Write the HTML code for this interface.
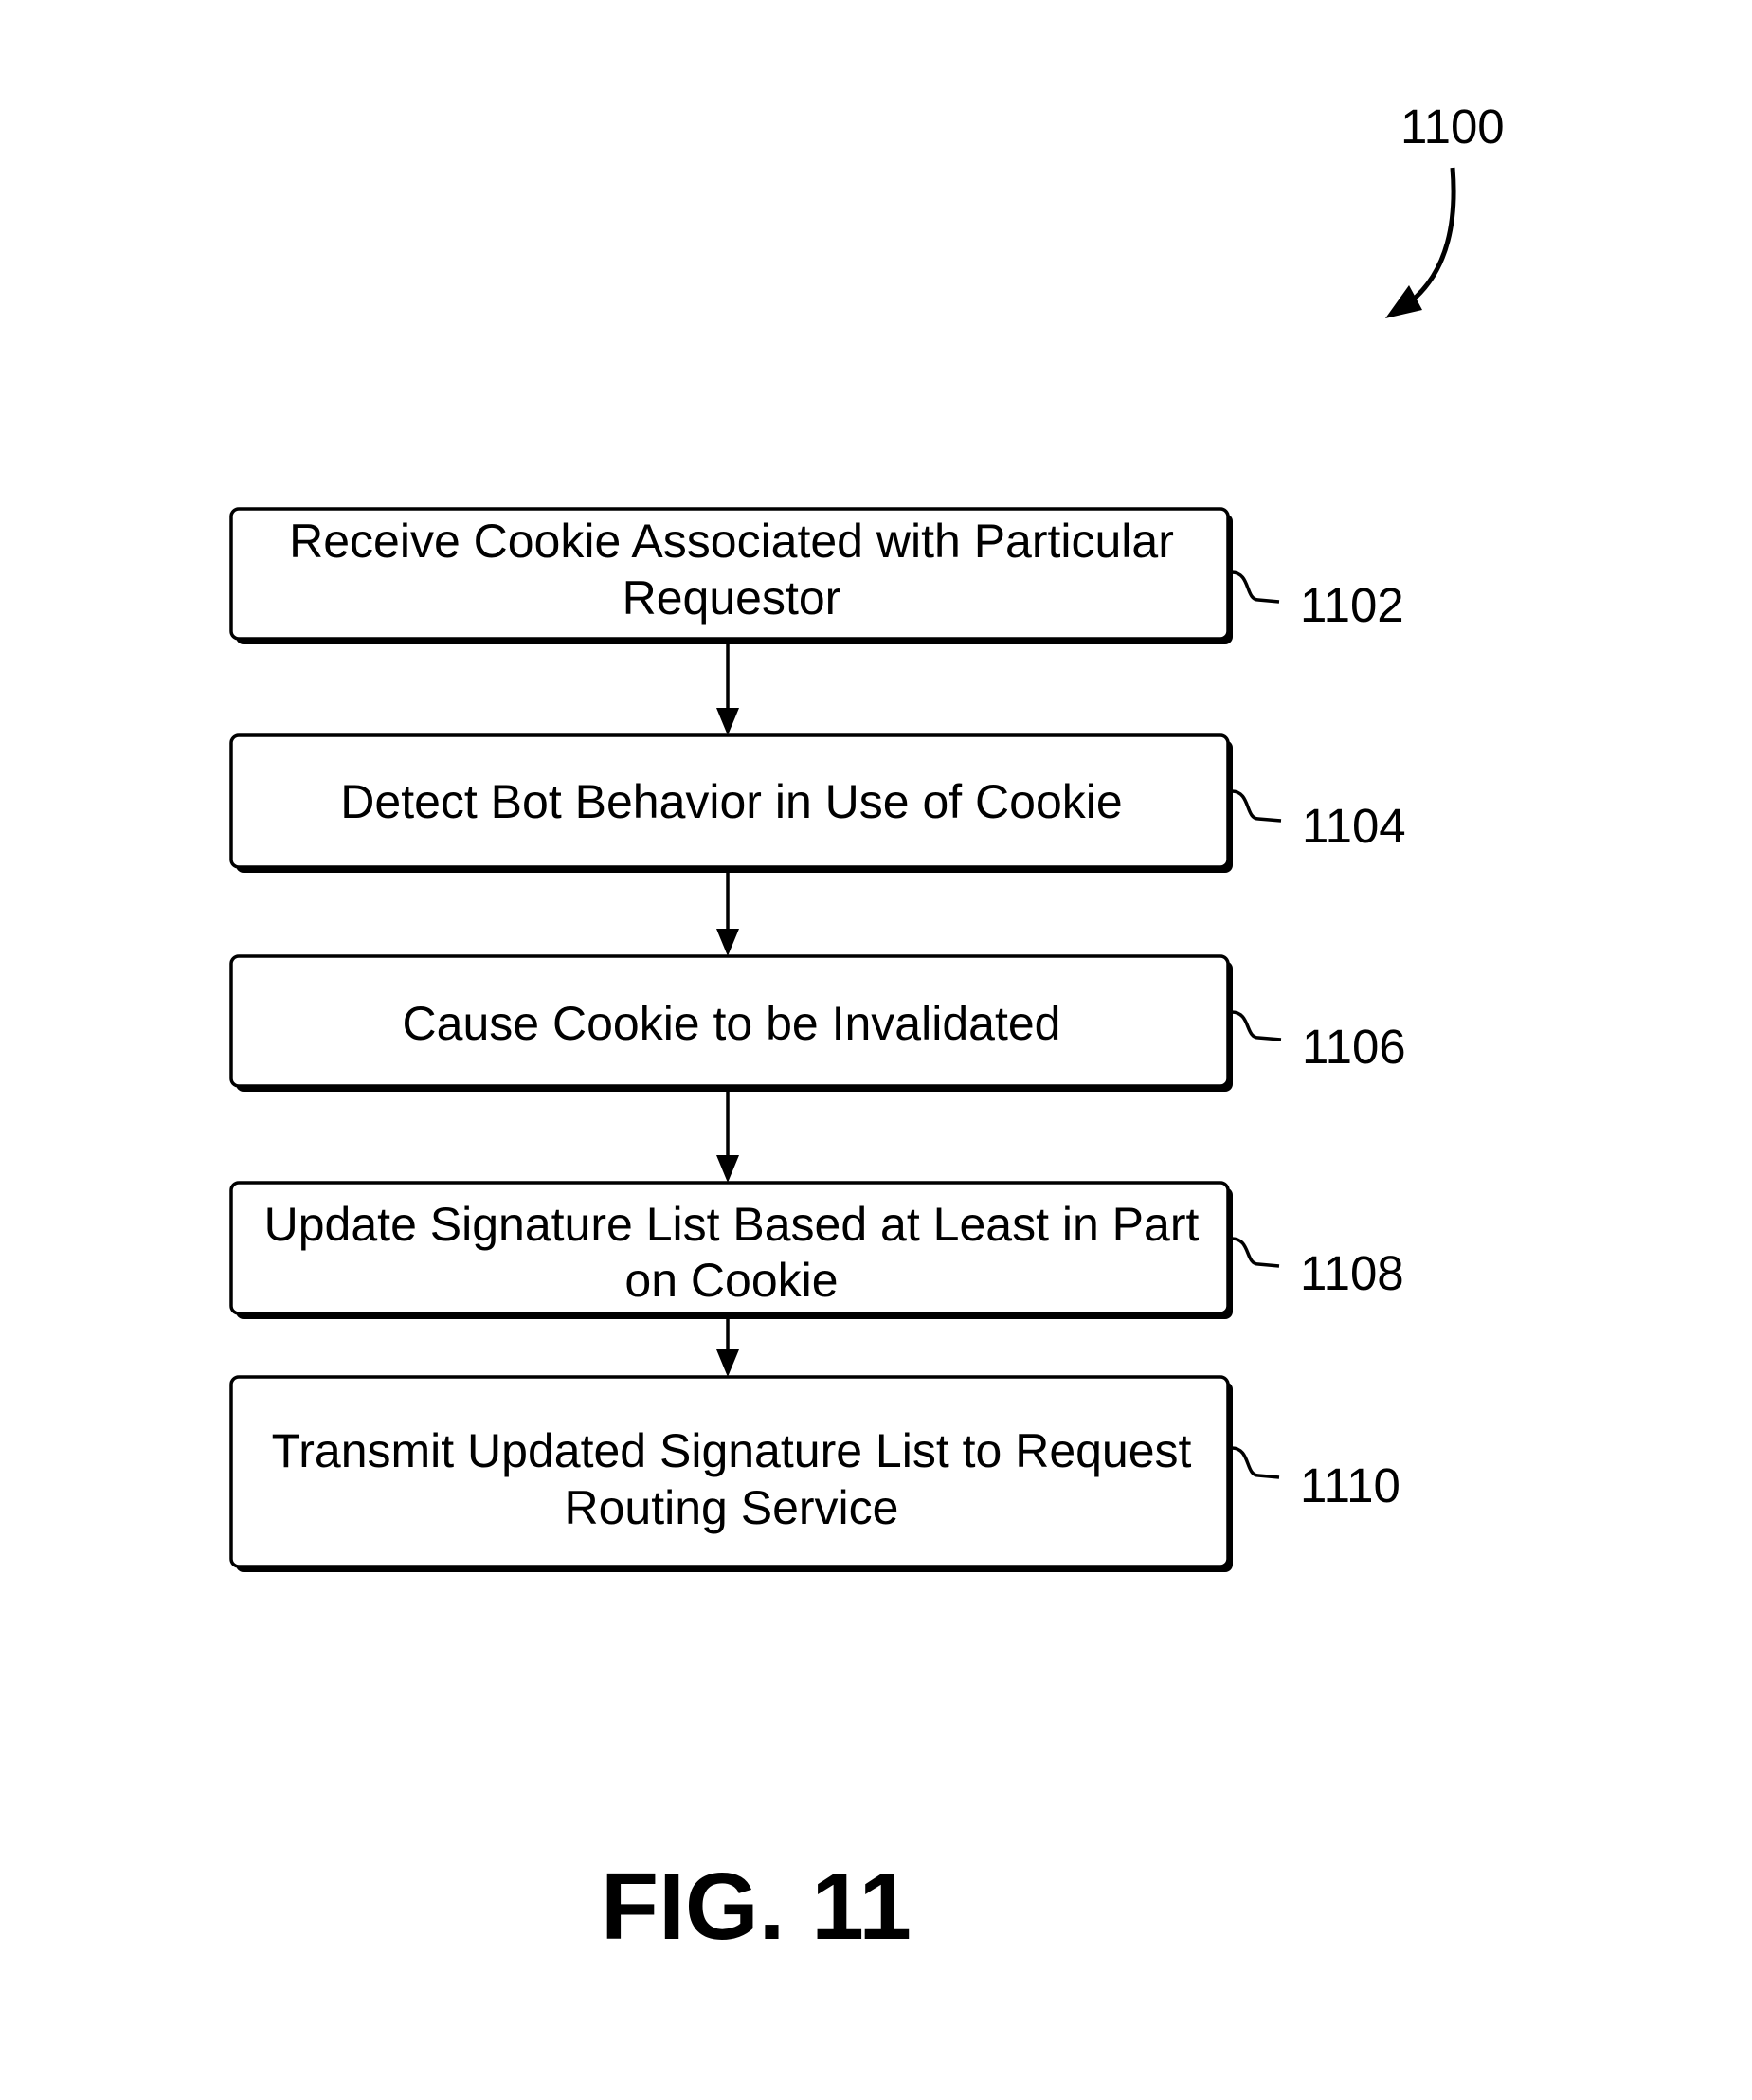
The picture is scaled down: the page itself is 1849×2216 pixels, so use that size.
<!DOCTYPE html>
<html><head><style>html,body{margin:0;padding:0;background:#fff}svg{display:block}</style></head>
<body>
<svg width="1849" height="2216" viewBox="0 0 1849 2216" xmlns="http://www.w3.org/2000/svg" font-family="Liberation Sans, Arial, sans-serif">
<g fill="#000">
<rect x="249" y="542" width="1052" height="138" rx="8"/>
<rect x="249" y="781" width="1052" height="140" rx="8"/>
<rect x="249" y="1014" width="1052" height="138" rx="8"/>
<rect x="249" y="1253" width="1052" height="139" rx="8"/>
<rect x="249" y="1458" width="1052" height="201" rx="8"/>
</g>
<g fill="#fff" stroke="#000" stroke-width="3.5">
<rect x="244" y="537" width="1052" height="137" rx="8"/>
<rect x="244" y="776" width="1052" height="139" rx="8"/>
<rect x="244" y="1009" width="1052" height="137" rx="8"/>
<rect x="244" y="1248" width="1052" height="138" rx="8"/>
<rect x="244" y="1453" width="1052" height="200" rx="8"/>
</g>
<g stroke="#000" stroke-width="3.5">
<line x1="768" y1="680" x2="768" y2="750"/>
<line x1="768" y1="921" x2="768" y2="983"/>
<line x1="768" y1="1152" x2="768" y2="1222"/>
<line x1="768" y1="1392" x2="768" y2="1428"/>
</g>
<g fill="#000">
<polygon points="756,747 780,747 768,776"/>
<polygon points="756,980 780,980 768,1009"/>
<polygon points="756,1219 780,1219 768,1248"/>
<polygon points="756,1424 780,1424 768,1453"/>
</g>
<g fill="none" stroke="#000" stroke-width="3.5">
<path d="M1300,604 C1320,604 1314,633 1328,633 L1350,635"/>
<path d="M1300,835 C1320,835 1314,864 1328,864 L1352,866"/>
<path d="M1300,1068 C1320,1068 1314,1095 1328,1095 L1352,1097"/>
<path d="M1300,1307 C1320,1307 1314,1334 1328,1334 L1350,1336"/>
<path d="M1300,1528 C1320,1528 1314,1557 1328,1557 L1350,1559"/>
<path d="M1533,177 C1538,238 1526,288 1488,319" stroke-width="5"/>
</g>
<polygon points="1462,336 1487,301 1501,327" fill="#000"/>
<g font-size="50" text-anchor="middle" fill="#000">
<text x="772" y="588">Receive Cookie Associated with Particular</text>
<text x="772" y="648">Requestor</text>
<text x="772" y="863">Detect Bot Behavior in Use of Cookie</text>
<text x="772" y="1097">Cause Cookie to be Invalidated</text>
<text x="772" y="1309">Update Signature List Based at Least in Part</text>
<text x="772" y="1368">on Cookie</text>
<text x="772" y="1548">Transmit Updated Signature List to Request</text>
<text x="772" y="1608">Routing Service</text>
</g>
<g font-size="51" fill="#000">
<text x="1372" y="656">1102</text>
<text x="1374" y="889">1104</text>
<text x="1374" y="1122">1106</text>
<text x="1372" y="1361">1108</text>
<text x="1372" y="1585">1110</text>
<text x="1478" y="151">1100</text>
</g>
<text x="798" y="2046" font-size="100" font-weight="bold" text-anchor="middle" fill="#000">FIG. 11</text>
</svg>
</body></html>
